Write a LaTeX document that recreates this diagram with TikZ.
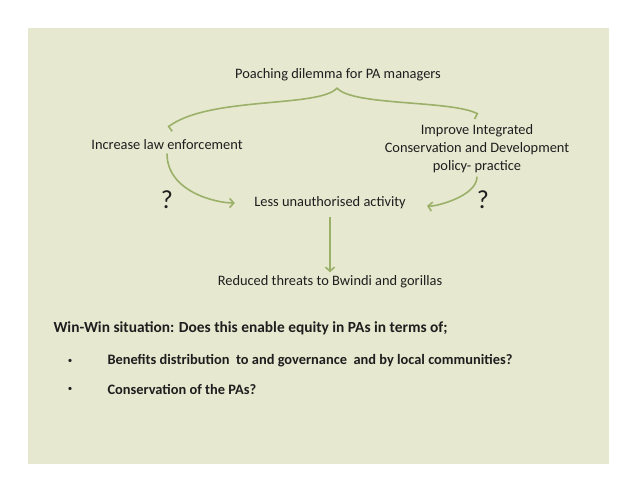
\documentclass[tikz,border=0pt]{standalone}
\usepackage{fontspec}
\setmainfont{Carlito}
\usepackage{xcolor}
\definecolor{SlideOlive}{RGB}{230,232,208}
\definecolor{ArrowOlive}{RGB}{155,176,104}
\definecolor{InkGrey}{RGB}{30,30,30}
\usetikzlibrary{arrows.meta, positioning}

\begin{document}
\begin{tikzpicture}[x=1pt, y=1pt, font=\fontsize{14.4}{18}\selectfont, text=InkGrey,
    flowarrow/.style={ArrowOlive, line width=1.6pt, -{Straight Barb[length=4pt,width=9pt]}},
    bracearm/.style={ArrowOlive, line width=1.6pt},
    query/.style={font=\fontsize{26}{30}\selectfont},
    boldline/.style={anchor=west, font=\fontsize{14.4}{18}\selectfont\bfseries},
    bulletdot/.style={font=\fontsize{9}{10}\selectfont}]

    % 0. THE SLIDE (canvas and panel)
    \useasboundingbox (0,0) rectangle (638,493);
    \fill[SlideOlive] (28,29) rectangle (609,465);

    % 1. THE DILEMMA (top of the brace)
    \node (dilemma) at (338,418) {Poaching dilemma for PA managers};
    \coordinate (peak) at (337,405);
    \coordinate (leftend) at (168,366);
    \coordinate (rightend) at (478,379);
    \draw[bracearm, -{Bar[width=12pt,left]}] (peak) .. controls (320,385) and (210,397) .. (leftend);
    \draw[bracearm, -{Bar[width=12pt,right]}] (peak) .. controls (352,387) and (450,393) .. (rightend);

    % 2. THE TWO OPTIONS
    \node (lawenf) at (167,348) {Increase law enforcement};
    \node[align=center] (icd) at (477,344) {Improve Integrated\\Conservation and Development\\policy- practice};

    % 3. THE OUTCOME
    \node (less) at (330,290) {Less unauthorised activity};
    \node (reduced) at (330,211) {Reduced threats to Bwindi and gorillas};
    \node[query] (qleft) at (167,293) {?};
    \node[query] (qright) at (483,293) {?};

    \draw[flowarrow, shorten >=16pt] (lawenf.south) .. controls +(0,-38) and +(-35,0) .. (less.west);
    \draw[flowarrow, shorten >=18pt] (icd.south) .. controls +(0,-20) and +(25,-4) .. (less.east);
    \draw[flowarrow, shorten <=4pt] (less.south) -- (reduced.north);

    % 4. THE QUESTION
    \node[boldline, font=\fontsize{15.4}{18}\selectfont\bfseries] (winwin) at (50,165) {Win-Win situation: Does this enable equity in PAs in terms of;};
    \node[bulletdot] (dotone) at (70,132) {\textbullet};
    \node[boldline] (benefits) at (104,132) {Benefits distribution\ \ to and governance\ \ and by local communities?};
    \node[bulletdot] (dottwo) at (70,104) {\textbullet};
    \node[boldline] (conserve) at (104,104) {Conservation of the PAs?};

\end{tikzpicture}
\end{document}
